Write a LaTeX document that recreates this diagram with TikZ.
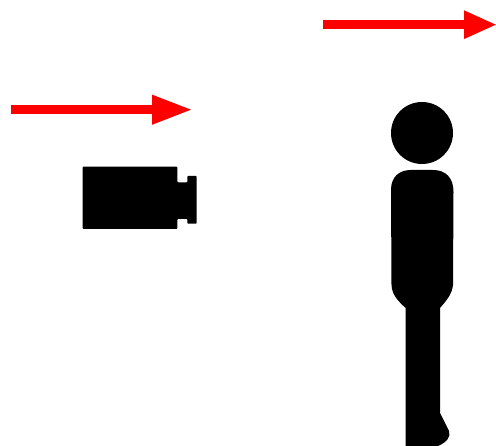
\documentclass[tikz,border=0pt]{standalone}
\usetikzlibrary{arrows.meta,positioning,calc}
\definecolor{wavered}{HTML}{FF0000}

\begin{document}
\begin{tikzpicture}[
  x=1pt, y=-1pt,
  solid shape/.style={fill=black, draw=none},
  wave arrow/.style={-{Triangle[length=41pt, width=27pt]}, wavered, line width=9.4pt},
  far arrow/.style={-{Triangle[length=33pt, width=26pt]}, wavered, line width=9pt},
]
  \useasboundingbox (0,0) rectangle (496,446);

  %% ---- Arrows ----
  \coordinate (lowstart) at (10.5,109.7);
  \coordinate (lowend)   at (193,109.7);
  \coordinate (highstart) at (323,24.7);
  \coordinate (highend)   at (497,24.7);
  \draw[wave arrow] (lowstart) -- (lowend);
  \draw[far arrow]  (highstart) -- (highend);

  %% ---- Camera ----
  \fill[solid shape, rounded corners=0.8pt]
    (82.7,166.7) -- (177.3,166.7) -- (177.3,182.3) -- (187.3,182.3)
    -- (187.3,176) -- (196.7,176) -- (196.7,223.7) -- (187.3,223.7)
    -- (187.3,219) -- (177.3,219) -- (177.3,229) -- (82.7,229) -- cycle;

  %% ---- Person ----
  \node[solid shape, circle, minimum size=62pt, inner sep=0pt] (head) at (422,133) {};
  \fill[solid shape]
    (391,190) .. controls (391,177) and (399,170) .. (411,170)
    -- (433,170)
    .. controls (446,170) and (453.5,178) .. (453.5,192)
    -- (453,285)
    .. controls (452,294) and (447,300) .. (440,308)
    -- (440,413)
    -- (449,431)
    .. controls (451,437) and (447,442) .. (438,446)
    -- (405.7,446) -- (405.7,308)
    .. controls (398,301) and (392,295) .. (391.5,285)
    -- cycle;

\end{tikzpicture}
\end{document}
